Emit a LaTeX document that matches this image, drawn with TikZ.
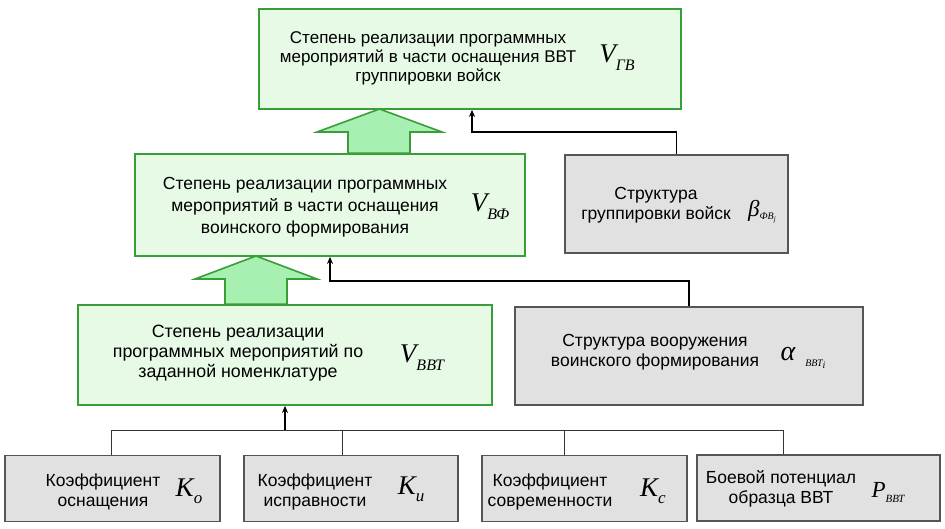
\documentclass[tikz,border=0pt]{standalone}
\usepackage{fontspec}
\setmainfont{Liberation Sans}
\newfontfamily\tmsfont{Liberation Serif}
\usetikzlibrary{arrows.meta,calc}
\definecolor{grn}{RGB}{56,158,56}
\definecolor{gfill}{RGB}{230,250,230}
\definecolor{afill}{RGB}{168,240,178}
\definecolor{gry}{RGB}{85,85,85}
\definecolor{sfill}{RGB}{225,225,225}
% #1 main letter size, #2 letter, #3 sub size, #4 sub, #5 drop
\newcommand\symbx[5]{{\tmsfont\itshape\fontsize{#1}{#1}\selectfont #2}\raisebox{-#5}{\tmsfont\itshape\fontsize{#3}{#3}\selectfont #4}}
\begin{document}
\begin{tikzpicture}[x=1pt,y=-1pt,
  gbox/.style={draw=grn, line width=1.8pt, fill=gfill, rectangle, inner sep=0pt},
  sbox/.style={draw=gry, line width=1.5pt, fill=sfill, rectangle, inner sep=0pt},
  txt/.style={align=center, inner sep=0pt, font=\fontsize{17.5}{20}\selectfont},
  sym/.style={inner sep=0pt, anchor=center},
  conn/.style={draw=black, line width=1.8pt, -{Stealth[length=7pt,width=6pt]}},
  thin/.style={draw=black!80, line width=1pt},
  bigarrow/.style={draw=grn, line width=1.6pt, fill=afill, line join=miter}]
\useasboundingbox (0,0) rectangle (945,529);
\fill[white] (0,0) rectangle (945,529);

% boxes
\node[gbox, minimum width=422pt, minimum height=100pt] (gv) at (470,59) {};
\node[gbox, minimum width=390pt, minimum height=102pt] (vf) at (330,205) {};
\node[sbox, minimum width=223pt, minimum height=98pt] (gb) at (676.5,204) {};
\node[gbox, minimum width=414pt, minimum height=100pt] (vb) at (285,355) {};
\node[sbox, minimum width=348pt, minimum height=98pt] (sa) at (689,356) {};
\node[sbox, minimum width=215pt, minimum height=66pt] (b1) at (112.5,488.5) {};
\node[sbox, minimum width=214pt, minimum height=66pt] (b2) at (351,488.5) {};
\node[sbox, minimum width=205pt, minimum height=66pt] (b3) at (584.5,488.5) {};
\node[sbox, minimum width=243pt, minimum height=66pt] (b4) at (818.5,488) {};

% texts
\node[txt, font=\fontsize{17}{19}\selectfont] (tgv) at (428,58) {Степень реализации программных\\мероприятий в части оснащения ВВТ\\группировки войск};
\node[sym] (sgv) at (617,58) {\symbx{27}{V}{16}{ГВ}{8pt}};
\node[txt, font=\fontsize{17.5}{22}\selectfont] (tvf) at (305,207) {Степень реализации программных\\мероприятий в части оснащения\\воинского формирования};
\node[sym] (svf) at (490,207) {\symbx{27}{V}{16}{ВФ}{8pt}};
\node[txt] (tgb) at (656,205) {Структура\\группировки войск};
\node[sym] (sgb) at (762,212) {\symbx{23}{β}{10}{ФВ\raisebox{-2pt}{\fontsize{7}{7}\selectfont\itshape j}}{3pt}};
\node[txt, font=\fontsize{17.8}{20}\selectfont] (tvb) at (238,353) {Степень реализации\\программных мероприятий по\\заданной номенклатуре};
\node[sym] (svb) at (422,358) {\symbx{27}{V}{16}{ВВТ}{8pt}};
\node[txt] (tsa) at (655,352) {Структура вооружения\\воинского формирования};
\node[sym] (ssa) at (803,358) {{\tmsfont\itshape\fontsize{28}{28}\selectfont α}\hspace{10pt}\raisebox{-6pt}{\tmsfont\itshape\fontsize{10}{10}\selectfont ВВТ\raisebox{-2pt}{\fontsize{10}{10}\selectfont\itshape i}}};
\node[txt] (tb1) at (103,492) {Коэффициент\\оснащения};
\node[sym] (sb1) at (189,491) {\symbx{27}{K}{17}{o}{7pt}};
\node[txt] (tb2) at (315,492) {Коэффициент\\исправности};
\node[sym] (sb2) at (411,489) {\symbx{27}{K}{17}{и}{7pt}};
\node[txt] (tb3) at (550,492) {Коэффициент\\современности};
\node[sym] (sb3) at (653,491) {\symbx{27}{K}{17}{c}{7pt}};
\node[txt] (tb4) at (781,489) {Боевой потенциал\\образца ВВТ};
\node[sym] (sb4) at (888,492) {\symbx{23}{P}{11}{ВВТ}{5pt}};

% big arrows
\draw[bigarrow] (vf.north -| 348,0) -- (348,132) -- (317,132) -- (379.5,109) -- (442,132) -- (410,132) -- (vf.north -| 410,0) -- cycle;
\draw[bigarrow] (vb.north -| 225,0) -- (225,279) -- (195,279) -- (256,256) -- (317,279) -- (287,279) -- (vb.north -| 287,0) -- cycle;

% connectors
\coordinate (c1) at (472,132);
\draw[conn] (gb.north) |- (c1) -- (c1 |- gv.south);
\coordinate (c2) at (330,281);
\draw[conn] (sa.north) |- (c2) -- (c2 |- vf.south);

% bottom tree
\coordinate (h1) at (111,430);
\coordinate (h2) at (342,430);
\coordinate (h3) at (564,430);
\coordinate (h4) at (783,430);
\draw[thin] (h1 |- b1.north) -- (h1) -- (h4) -- (h4 |- b4.north);
\draw[thin] (h2) -- (h2 |- b2.north);
\draw[thin] (h3) -- (h3 |- b3.north);
\draw[conn] (vb.south |- h1) -- (vb.south);
\end{tikzpicture}
\end{document}
